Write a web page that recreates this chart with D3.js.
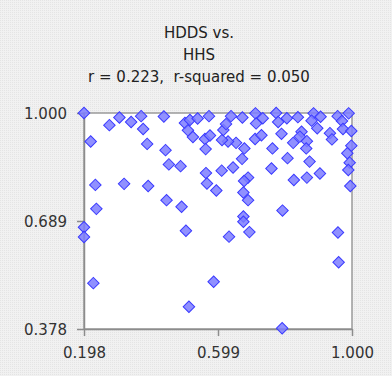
<!DOCTYPE html>
<html>
<head>
<meta charset="utf-8">
<script src="https://cdn.jsdelivr.net/npm/d3@7"></script>
<style>
  html, body { margin: 0; padding: 0; background: #efefef; }
  svg { display: block; }
</style>
</head>
<body>
<svg id="chart" width="392" height="376"></svg>
<script>
// Household Dietary Diversity Score vs. Household Hunger Score (both scaled 0–1)
const titleLines = ["HDDS vs.", "HHS", "r = 0.223,  r-squared = 0.050"];
const xTicks = [0.198, 0.599, 1.000];
const yTicks = [0.378, 0.689, 1.000];

const hdds = [
  0.198, 0.274, 0.304, 0.339, 0.369, 0.375, 0.437, 0.218, 0.387, 0.442,
  0.452, 0.487, 0.232, 0.318, 0.390, 0.445, 0.490, 0.235, 0.198, 0.198,
  0.226, 0.503, 0.586, 0.512, 0.500, 0.515, 0.538, 0.572, 0.509, 0.524,
  0.560, 0.575, 0.562, 0.563, 0.566, 0.594, 0.610, 0.644, 0.671, 0.678,
  0.653, 0.629, 0.611, 0.615, 0.623, 0.638, 0.672, 0.711, 0.713, 0.710,
  0.729, 0.689, 0.677, 0.675, 0.689, 0.675, 0.675, 0.693, 0.632, 0.792,
  0.958, 0.960, 0.791, 0.733, 0.773, 0.779, 0.805, 0.838, 0.885, 0.906,
  0.879, 0.896, 0.849, 0.844, 0.865, 0.824, 0.789, 0.762, 0.863, 0.807,
  0.873, 0.759, 0.826, 0.865, 0.904, 0.957, 0.990, 0.970, 0.973, 0.998,
  0.934, 0.940, 0.998, 0.986, 0.993, 0.989, 0.995
];
const hhs = [
  1.000, 0.965, 0.987, 0.974, 0.991, 0.954, 0.990, 0.918, 0.911, 0.893,
  0.852, 0.847, 0.793, 0.796, 0.790, 0.749, 0.730, 0.724, 0.671, 0.643,
  0.510, 0.661, 0.514, 0.442, 0.971, 0.980, 0.984, 0.991, 0.950, 0.931,
  0.925, 0.935, 0.896, 0.827, 0.797, 0.777, 0.834, 0.843, 0.868, 0.898,
  0.914, 0.918, 0.922, 0.951, 0.968, 0.991, 0.987, 0.999, 0.970, 0.925,
  0.936, 0.814, 0.804, 0.771, 0.749, 0.702, 0.687, 0.657, 0.644, 0.719,
  0.656, 0.570, 0.380, 0.985, 1.000, 0.974, 0.985, 0.988, 0.999, 0.989,
  0.978, 0.956, 0.946, 0.932, 0.919, 0.914, 0.940, 0.898, 0.898, 0.870,
  0.860, 0.840, 0.807, 0.814, 0.826, 0.991, 0.999, 0.977, 0.954, 0.948,
  0.942, 0.924, 0.906, 0.884, 0.857, 0.836, 0.790
];

const svg = d3.select("#chart");
const W = 392, H = 376;
const plot = { left: 84, right: 352, top: 113, bottom: 329 };

// speckled grey chart background
const defs = svg.append("defs");
const pat = defs.append("pattern")
  .attr("id", "speckle").attr("width", 2).attr("height", 2)
  .attr("patternUnits", "userSpaceOnUse");
pat.append("rect").attr("width", 2).attr("height", 2).attr("fill", "#f1f1f1");
pat.append("rect").attr("width", 1).attr("height", 1).attr("fill", "#e4e4e4");
svg.append("rect").attr("width", W).attr("height", H).attr("fill", "url(#speckle)");

const x = d3.scaleLinear().domain([0.198, 1.000]).range([plot.left, plot.right]);
const y = d3.scaleLinear().domain([0.378, 1.000]).range([plot.bottom, plot.top]);

// plot area
svg.append("rect")
  .attr("x", plot.left).attr("y", plot.top)
  .attr("width", plot.right - plot.left).attr("height", plot.bottom - plot.top)
  .attr("fill", "#ffffff").attr("stroke", "#9a9a9a").attr("stroke-width", 1.5);

const font = "'DejaVu Sans', sans-serif";

// axes
const xAxis = d3.axisBottom(x).tickValues(xTicks).tickFormat(d3.format(".3f"))
  .tickSizeInner(7).tickSizeOuter(0).tickPadding(8);
const yAxis = d3.axisLeft(y).tickValues(yTicks).tickFormat(d3.format(".3f"))
  .tickSizeInner(7).tickSizeOuter(0).tickPadding(10);

const gx = svg.append("g").attr("transform", `translate(0,${plot.bottom})`).call(xAxis);
const gy = svg.append("g").attr("transform", `translate(${plot.left},0)`).call(yAxis);
[gx, gy].forEach(g => {
  g.select(".domain").attr("stroke", "#8c8c8c").attr("stroke-width", 1.5);
  g.selectAll(".tick line").attr("stroke", "#8c8c8c").attr("stroke-width", 1.5);
  g.selectAll(".tick text")
    .attr("fill", "#333").style("font-family", font).style("font-size", "15px");
});
gx.selectAll(".tick text").attr("dy", "0.95em");
gy.selectAll(".tick text").attr("dy", "0.35em");

// points: diamonds
const diamond = d3.symbol().type(d3.symbolSquare).size(66);
svg.append("g")
  .selectAll("path")
  .data(hdds.map((v, i) => [v, hhs[i]]))
  .join("path")
  .attr("d", diamond)
  .attr("transform", d => `translate(${x(d[0])},${y(d[1])}) rotate(45)`)
  .attr("fill", "#7d7dff")
  .attr("fill-opacity", 0.85)
  .attr("stroke", "#3a3aff")
  .attr("stroke-width", 1);

// title
svg.append("g")
  .selectAll("text")
  .data(titleLines)
  .join("text")
  .attr("x", 199)
  .attr("y", (d, i) => 38 + i * 22)
  .attr("text-anchor", "middle")
  .attr("fill", "#222")
  .style("font-family", font)
  .style("font-size", "15px")
  .style("white-space", "pre")
  .text(d => d);
</script>
</body>
</html>
